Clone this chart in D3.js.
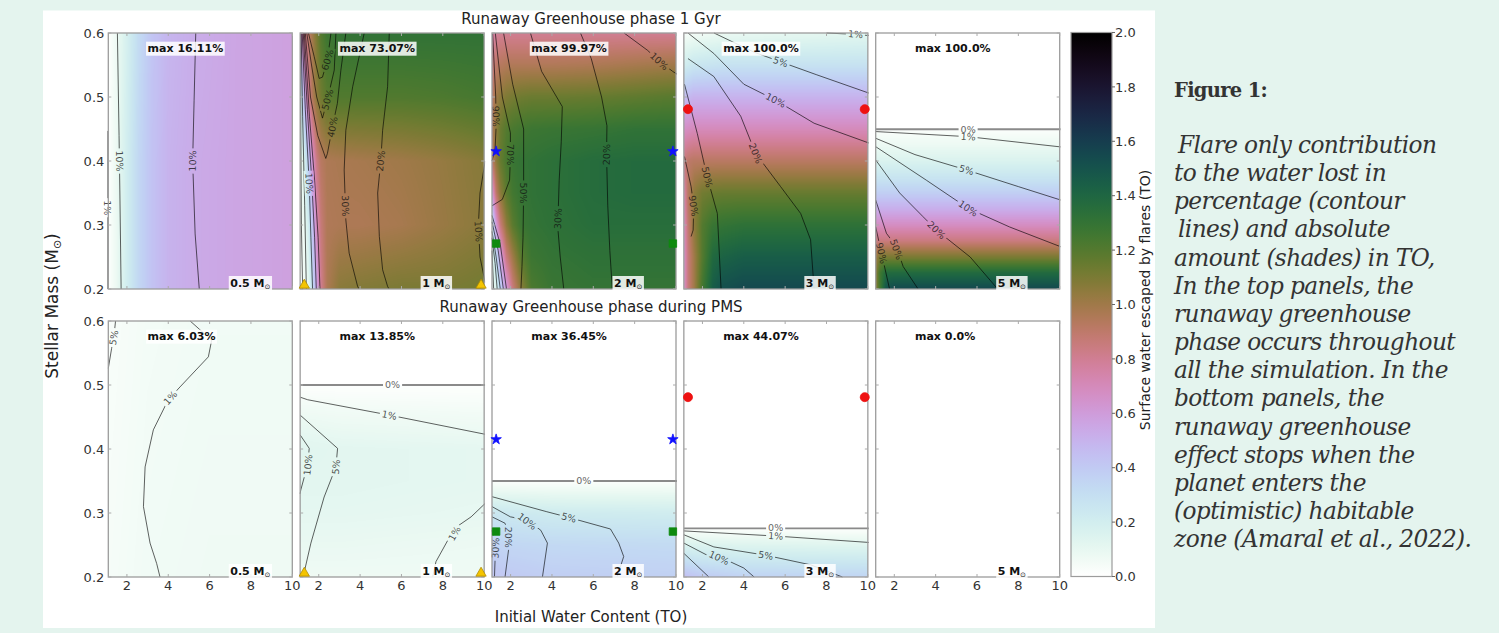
<!DOCTYPE html>
<html><head><meta charset="utf-8">
<script src="https://cdn.jsdelivr.net/npm/d3@7"></script>
<style>
html,body{margin:0;padding:0;background:#e4f4ee;}
#wrap{position:relative;width:1499px;height:633px;overflow:hidden;}
svg{position:absolute;left:0;top:0;}
</style></head><body><div id="wrap"></div>
<script>
// ---------------- data ----------------
const stellarMass = ["0.5","1","2","3","5"];
const rowTitles = ["Runaway Greenhouse phase 1 Gyr","Runaway Greenhouse phase during PMS"];
const maxTop = ["16.11%","73.07%","99.97%","100.0%","100.0%"];
const maxBottom = ["6.03%","13.85%","36.45%","44.07%","0.0%"];
const massTicks = [0.2,0.3,0.4,0.5,0.6];
const waterTicks = [2,4,6,8,10];
const colorTicks = [0,0.2,0.4,0.6,0.8,1.0,1.2,1.4,1.6,1.8,2.0];
const markerWater = [1.3, 9.85];
const planetMarkers = [
  {col:1, mass:0.206, shape:"triangle", fill:"#f4c400", stroke:"#b08c00"},
  {col:2, mass:0.415, shape:"star", fill:"#1010ff", stroke:"#1010ff"},
  {col:2, mass:0.271, shape:"square", fill:"#0e8a0e", stroke:"#0e8a0e"},
  {col:3, mass:0.481, shape:"circle", fill:"#ee1111", stroke:"#ee1111"}
];
const captionTitle = "Figure 1:";
const captionLines = [" Flare only contribution","to the water lost in","percentage (contour"," lines) and absolute","amount (shades) in TO,","In the top panels, the","runaway greenhouse","phase occurs throughout","all the simulation. In the","bottom panels, the","runaway greenhouse","effect stops when the","planet enters the","(optimistic) habitable","zone (Amaral et al., 2022)."];

// surface water escaped (TO): rows = stellar mass, columns = initial water
const T1_water = [1.1,1.5,2.0,2.6,3.2,4.0,5.5,7.5,10];
const T1_mass = [0.2,0.4,0.6];
const T1_escaped = [
  [0.01,0.08,0.20,0.34,0.43,0.50,0.54,0.56,0.58],
  [0.01,0.08,0.20,0.34,0.43,0.50,0.54,0.56,0.58],
  [0.01,0.07,0.18,0.32,0.42,0.49,0.53,0.56,0.58]];
const T2_water = [1.1,1.3,1.5,1.7,1.9,2.1,2.4,3,4,6,8,10];
const T2_mass = [0.2,0.3,0.4,0.5,0.6];
const T2_escaped = [
  [0.02,0.05,0.10,0.30,0.55,0.80,0.96,1.06,1.08,1.10,1.10,1.12],
  [0.03,0.08,0.20,0.45,0.70,0.86,0.95,0.96,0.96,0.98,1.02,1.06],
  [0.05,0.15,0.40,0.65,0.83,0.92,0.96,0.97,0.98,1.00,1.03,1.07],
  [0.15,0.50,0.80,0.95,1.05,1.12,1.18,1.21,1.21,1.21,1.22,1.24],
  [0.60,0.82,0.90,1.00,1.10,1.20,1.27,1.30,1.31,1.31,1.31,1.31]];
const T3_water = [1.1,1.3,1.5,1.8,2.1,2.5,3,4,6,8,10];
const T3_mass = [0.2,0.25,0.3,0.35,0.4,0.45,0.5,0.55,0.6];
const T3_escaped = [
  [0.05,0.15,0.35,0.60,0.85,1.05,1.22,1.28,1.30,1.30,1.30],
  [0.10,0.30,0.55,0.85,1.00,1.18,1.27,1.30,1.32,1.32,1.32],
  [0.25,0.60,0.85,1.05,1.18,1.27,1.30,1.32,1.35,1.35,1.35],
  [0.60,0.90,1.05,1.18,1.25,1.29,1.31,1.33,1.36,1.37,1.37],
  [0.90,1.05,1.15,1.23,1.28,1.30,1.31,1.33,1.36,1.37,1.37],
  [0.95,1.05,1.14,1.20,1.23,1.25,1.27,1.28,1.29,1.31,1.31],
  [0.90,1.00,1.05,1.09,1.11,1.13,1.14,1.14,1.15,1.17,1.19],
  [0.85,0.90,0.93,0.95,0.95,0.95,0.95,0.95,0.96,0.98,1.00],
  [0.75,0.78,0.80,0.80,0.80,0.80,0.80,0.80,0.80,0.80,0.80]];
const T4_water = [1.1,1.3,1.6,2.0,2.5,3,4,6,8,10];
const T4_mass = [0.2,0.25,0.3,0.35,0.4,0.45,0.5,0.55,0.6];
const T4_escaped = [
  [0.65,0.85,1.00,1.25,1.45,1.52,1.55,1.55,1.55,1.55],
  [0.65,0.85,1.00,1.20,1.38,1.42,1.45,1.45,1.45,1.45],
  [0.68,0.88,1.05,1.20,1.28,1.30,1.32,1.32,1.32,1.32],
  [0.72,0.92,1.05,1.12,1.14,1.15,1.15,1.15,1.15,1.15],
  [0.85,0.90,0.92,0.92,0.92,0.92,0.92,0.92,0.92,0.92],
  [0.66,0.68,0.70,0.70,0.70,0.70,0.70,0.70,0.70,0.70],
  [0.45,0.47,0.50,0.50,0.50,0.50,0.50,0.50,0.50,0.50],
  [0.20,0.22,0.25,0.26,0.27,0.28,0.28,0.28,0.28,0.28],
  [0.03,0.04,0.05,0.06,0.07,0.08,0.09,0.10,0.11,0.12]];
const T5_water = [1.1,1.3,1.6,2.0,3.0,10];
const T5_mass = [0.2,0.225,0.25,0.275,0.3,0.325,0.35,0.375,0.4,0.425,0.449,0.451,0.6];
const T5_escaped = [
  [1.05,1.25,1.50,1.55,1.55,1.55],
  [1.05,1.25,1.38,1.38,1.38,1.38],
  [1.00,1.10,1.10,1.10,1.10,1.10],
  [0.85,0.85,0.85,0.85,0.85,0.85],
  [0.68,0.68,0.68,0.68,0.68,0.68],
  [0.52,0.52,0.52,0.52,0.52,0.52],
  [0.38,0.38,0.38,0.38,0.38,0.38],
  [0.26,0.26,0.26,0.26,0.26,0.26],
  [0.16,0.16,0.16,0.16,0.16,0.16],
  [0.08,0.08,0.08,0.08,0.08,0.08],
  [0.02,0.02,0.02,0.02,0.02,0.02],
  [0,0,0,0,0,0],
  [0,0,0,0,0,0]];
const B1_water = [1.1,3,6,10];
const B1_mass = [0.2,0.6];
const B1_escaped = [[0.04,0.06,0.07,0.07],[0.03,0.05,0.06,0.06]];
const B2_water = [1.1,3,10];
const B2_mass = [0.2,0.25,0.3,0.35,0.4,0.45,0.499,0.501,0.6];
const B2_escaped = [[0.07,0.07,0.07],[0.09,0.09,0.08],[0.11,0.11,0.10],[0.12,0.12,0.11],[0.13,0.12,0.11],[0.08,0.07,0.06],[0.01,0.01,0.01],[0,0,0],[0,0,0]];
const B3_water = [1.1,2,4,10];
const B3_mass = [0.2,0.25,0.3,0.349,0.351,0.6];
const B3_escaped = [[0.42,0.40,0.38,0.37],[0.36,0.34,0.33,0.32],[0.25,0.24,0.22,0.21],[0.02,0.02,0.02,0.02],[0,0,0,0],[0,0,0,0]];
const B4_water = [1.1,2,4,10];
const B4_mass = [0.2,0.225,0.25,0.274,0.276,0.6];
const B4_escaped = [[0.45,0.40,0.36,0.35],[0.30,0.27,0.25,0.24],[0.16,0.15,0.14,0.13],[0.02,0.02,0.02,0.02],[0,0,0,0],[0,0,0,0]];
const B5_water = [1.1,10];
const B5_mass = [0.2,0.6];
const B5_escaped = [[0,0],[0,0]];

// contour lines of water lost (%): points are [initial water, stellar mass]
const T1_contours = [
  {level:"1%", pts:[[1.08,0.447],[1.08,0.2]], label:[1.08,0.327]},
  {level:"10%", pts:[[1.54,0.6],[1.62,0.44],[1.66,0.35],[1.72,0.2]], label:[1.645,0.40]},
  {level:"10%", pts:[[5.33,0.6],[5.25,0.495],[5.18,0.40],[5.30,0.286],[5.5,0.2]], label:[5.18,0.40]}];
const T2_contours = [
  {level:"1%", pts:[[1.12,0.6],[1.13,0.45],[1.16,0.3],[1.22,0.2]]},
  {level:"5%", pts:[[1.15,0.6],[1.22,0.47],[1.32,0.33],[1.4,0.2]]},
  {level:"10%", pts:[[1.2,0.6],[1.35,0.48],[1.54,0.365],[1.62,0.28],[1.7,0.2]], label:[1.54,0.365]},
  {level:"20%", pts:[[1.25,0.6],[1.45,0.48],[1.66,0.37],[1.8,0.28],[1.88,0.2]]},
  {level:"30%", pts:[[1.3,0.6],[1.55,0.47],[1.8,0.37],[1.97,0.28],[2.06,0.2]]},
  {level:"40%", pts:[[1.35,0.6],[1.6,0.5],[1.95,0.44],[2.34,0.404],[2.42,0.412],[2.66,0.453],[2.9,0.49],[3.07,0.542],[3.31,0.6]], label:[2.66,0.453]},
  {level:"50%", pts:[[1.42,0.6],[1.65,0.55],[1.9,0.5],[2.18,0.467],[2.42,0.496],[2.75,0.542],[2.83,0.6]], label:[2.42,0.496]},
  {level:"60%", pts:[[1.5,0.6],[1.78,0.563],[2.02,0.529],[2.18,0.531],[2.42,0.558],[2.59,0.6]], label:[2.42,0.558]},
  {level:"30%", pts:[[4.2,0.6],[3.64,0.516],[3.31,0.448],[3.23,0.386],[3.31,0.308],[3.47,0.256],[3.88,0.204],[3.95,0.2]], label:[3.29,0.33]},
  {level:"20%", pts:[[5.41,0.6],[5.33,0.516],[5.09,0.448],[5.0,0.40],[4.85,0.35],[4.93,0.282],[5.09,0.23],[5.33,0.204],[5.4,0.2]], label:[4.99,0.40]},
  {level:"10%", pts:[[10.05,0.40],[9.8,0.35],[9.72,0.3],[9.8,0.25],[10.05,0.21]], label:[9.73,0.29]}];
const T3_contours = [
  {level:"1%", pts:[[1.1,0.26],[1.18,0.2]]},
  {level:"5%", pts:[[1.1,0.28],[1.25,0.24],[1.35,0.2]]},
  {level:"10%", pts:[[1.1,0.29],[1.3,0.25],[1.5,0.2]]},
  {level:"20%", pts:[[1.1,0.305],[1.4,0.26],[1.65,0.2]]},
  {level:"30%", pts:[[1.1,0.315],[1.5,0.27],[1.8,0.2]]},
  {level:"90%", pts:[[1.13,0.6],[1.28,0.5],[1.3,0.454],[1.25,0.42],[1.1,0.4]], label:[1.29,0.47]},
  {level:"70%", pts:[[1.26,0.6],[1.6,0.5],[1.99,0.444],[1.99,0.407],[1.95,0.37],[1.6,0.34],[1.1,0.33]], label:[1.99,0.41]},
  {level:"50%", pts:[[1.66,0.6],[2.1,0.52],[2.63,0.45],[2.63,0.4],[2.63,0.35],[2.6,0.28],[2.55,0.235],[2.5,0.2]], label:[2.63,0.35]},
  {level:"30%", pts:[[2.96,0.6],[3.5,0.54],[4.5,0.485],[4.45,0.43],[4.35,0.37],[4.28,0.297],[4.4,0.25],[4.57,0.2]], label:[4.29,0.31]},
  {level:"20%", pts:[[5.38,0.6],[5.9,0.56],[6.4,0.5],[6.66,0.455],[6.64,0.41],[6.7,0.33],[6.8,0.26],[6.92,0.2]], label:[6.64,0.41]},
  {level:"10%", pts:[[7.49,0.6],[8.62,0.573],[9.19,0.556],[9.84,0.54],[10.08,0.535]], label:[9.19,0.556]}];
const T4_contours = [
  {level:"1%", pts:[[8.0,0.6],[9.3,0.598],[10.05,0.596]], label:[9.4,0.598]},
  {level:"5%", pts:[[2.56,0.6],[4.5,0.57],[5.78,0.555],[7.5,0.535],[10.06,0.506]], label:[5.78,0.555]},
  {level:"10%", pts:[[1.3,0.6],[2.55,0.568],[4.0,0.52],[5.54,0.495],[7.4,0.459],[10.06,0.428]], label:[5.54,0.495]},
  {level:"20%", pts:[[1.3,0.56],[2.55,0.532],[3.85,0.47],[4.57,0.412],[5.78,0.36],[6.75,0.318],[7.23,0.277],[7.4,0.2]], label:[4.57,0.412]},
  {level:"50%", pts:[[1.13,0.52],[1.75,0.443],[2.23,0.375],[2.72,0.318],[2.9,0.2]], label:[2.23,0.375]},
  {level:"90%", pts:[[1.13,0.407],[1.45,0.36],[1.58,0.329],[1.55,0.292],[1.45,0.282]], label:[1.57,0.33]}];
const T5_contours = [
  {level:"0%", pts:[[1.1,0.4495],[10.05,0.4495]], label:[5.57,0.4495]},
  {level:"1%", pts:[[1.1,0.446],[5.57,0.438],[10.05,0.422]], label:[5.57,0.438]},
  {level:"5%", pts:[[1.1,0.4355],[3.0,0.41],[5.49,0.386],[8,0.36],[10.05,0.339]], label:[5.49,0.386]},
  {level:"10%", pts:[[1.1,0.4224],[3.55,0.37],[5.57,0.326],[7.57,0.297],[10.05,0.266]], label:[5.57,0.326]},
  {level:"20%", pts:[[1.1,0.4016],[2.26,0.35],[3.39,0.313],[4.04,0.292],[5.67,0.25],[7.0,0.2]], label:[4.04,0.292]},
  {level:"50%", pts:[[1.1,0.339],[1.62,0.287],[2.1,0.266],[2.43,0.235],[3.15,0.2]], label:[2.1,0.262]},
  {level:"90%", pts:[[1.1,0.297],[1.38,0.256],[1.77,0.2]], label:[1.38,0.256]}];
const B1_contours = [
  {level:"5%", pts:[[1.1,0.526],[1.26,0.557],[1.38,0.578],[1.45,0.6]], label:[1.36,0.574]},
  {level:"1%", pts:[[5.06,0.6],[6.1,0.57],[5.94,0.544],[4.57,0.497],[4.0,0.477],[3.28,0.43],[2.88,0.372],[2.8,0.31],[3.12,0.253],[3.44,0.221],[3.6,0.2]], label:[4.1,0.48]}];
const B2_contours = [
  {level:"0%", pts:[[1.1,0.5],[10.05,0.5]], label:[5.57,0.5]},
  {level:"1%", pts:[[1.1,0.481],[1.46,0.477],[5.41,0.453],[10.05,0.423]], label:[5.41,0.453]},
  {level:"10%", pts:[[1.1,0.422],[1.54,0.401],[1.46,0.375],[1.13,0.336],[1.1,0.33]], label:[1.48,0.375]},
  {level:"5%", pts:[[1.1,0.453],[2.91,0.401],[2.83,0.372],[2.26,0.325],[1.62,0.253],[1.3,0.208]], label:[2.83,0.372]},
  {level:"1%", pts:[[10.05,0.315],[9.37,0.294],[8.56,0.276],[7.67,0.224],[7.51,0.2]], label:[8.56,0.268]}];
const B3_contours = [
  {level:"0%", pts:[[1.1,0.35],[10.05,0.35]], label:[5.54,0.35]},
  {level:"5%", pts:[[1.1,0.3255],[3.75,0.302],[4.82,0.293],[6.83,0.275],[7.23,0.253],[7.47,0.232],[7.15,0.2]], label:[4.82,0.293]},
  {level:"10%", pts:[[1.1,0.31],[1.99,0.294],[2.8,0.289],[3.46,0.273],[3.78,0.253],[3.54,0.2]], label:[2.8,0.287]},
  {level:"20%", pts:[[1.1,0.294],[1.73,0.284],[1.9,0.268],[1.9,0.242],[1.73,0.2]], label:[1.9,0.262]},
  {level:"30%", pts:[[1.1,0.273],[1.27,0.247],[1.22,0.2]], label:[1.27,0.245]}];
const B4_contours = [
  {level:"0%", pts:[[1.1,0.276],[10.05,0.276]], label:[5.54,0.277]},
  {level:"1%", pts:[[1.1,0.272],[5.54,0.264],[10.05,0.254]], label:[5.54,0.264]},
  {level:"5%", pts:[[1.1,0.266],[2.55,0.247],[5.06,0.234],[7.23,0.219],[8.77,0.2]], label:[5.06,0.234]},
  {level:"10%", pts:[[1.1,0.253],[2.23,0.234],[2.8,0.232],[4.0,0.214],[4.5,0.2]], label:[2.8,0.23]},
  {level:"20%", pts:[[1.1,0.237],[2.31,0.2]]}];
const B5_contours = [];

// ---------------- drawing ----------------
const panels = [
  [T1_water,T1_mass,T1_escaped,T1_contours],[T2_water,T2_mass,T2_escaped,T2_contours],
  [T3_water,T3_mass,T3_escaped,T3_contours],[T4_water,T4_mass,T4_escaped,T4_contours],
  [T5_water,T5_mass,T5_escaped,T5_contours],[B1_water,B1_mass,B1_escaped,B1_contours],
  [B2_water,B2_mass,B2_escaped,B2_contours],[B3_water,B3_mass,B3_escaped,B3_contours],
  [B4_water,B4_mass,B4_escaped,B4_contours],[B5_water,B5_mass,B5_escaped,B5_contours]];

const W=1499,H=633;
const svg = d3.select("#wrap").append("svg").attr("width",W).attr("height",H)
  .style("font-family","'DejaVu Sans', sans-serif");
const defs = svg.append("defs");
svg.append("rect").attr("x",43).attr("y",10.5).attr("width",1112).attr("height",617.5).attr("fill","#ffffff");

const colorScale = d3.scaleSequential(d3.interpolateCubehelixDefault).domain([2,0]);
const LUT = d3.range(513).map(k=>d3.rgb(colorScale(k/512*2)));
function locate(arr,v){
  let k = d3.bisectRight(arr,v)-1; k=Math.max(0,Math.min(arr.length-2,k));
  let t=(v-arr[k])/(arr[k+1]-arr[k]); t=Math.max(0,Math.min(1,t)); return [k,t];
}
function labelAngle(pp,p){
  let best=Infinity,ang=0;
  for(let k=0;k<pp.length-1;k++){
    const a=pp[k],b=pp[k+1],dx=b[0]-a[0],dy=b[1]-a[1],L2=dx*dx+dy*dy||1;
    let t=((p[0]-a[0])*dx+(p[1]-a[1])*dy)/L2; t=Math.max(0,Math.min(1,t));
    const d=(p[0]-a[0]-t*dx)**2+(p[1]-a[1]-t*dy)**2;
    if(d<best){best=d;ang=Math.atan2(dy,dx)*180/Math.PI;}
  }
  if(ang>90)ang-=180; if(ang<=-90)ang+=180; return ang;
}
const rowTop=[33,321], PW=184, PH=256;
const colLeft = c => 108.3 + c*191.85;

panels.forEach((P,idx)=>{
  const [water,mass,esc,contours]=P;
  const row = idx<5?0:1, col=idx%5;
  const x0=colLeft(col), y0=rowTop[row];
  const xS=d3.scaleLinear().domain([1.1,10]).range([x0,x0+PW]);
  const yS=d3.scaleLinear().domain([0.2,0.6]).range([y0+PH,y0]);
  // shaded field
  const cv=document.createElement("canvas"); cv.width=PW; cv.height=PH;
  const ctx=cv.getContext("2d"); const img=ctx.createImageData(PW,PH);
  for(let j=0;j<PH;j++){
    const [mk,mt]=locate(mass,yS.invert(y0+j+0.5));
    const r0=esc[mk], r1=esc[mk+1];
    for(let i=0;i<PW;i++){
      const [wk,wt]=locate(water,xS.invert(x0+i+0.5));
      const v=(1-mt)*((1-wt)*r0[wk]+wt*r0[wk+1])+mt*((1-wt)*r1[wk]+wt*r1[wk+1]);
      const c=LUT[Math.max(0,Math.min(512,Math.round(v/2*512)))];
      const o=(j*PW+i)*4; img.data[o]=c.r; img.data[o+1]=c.g; img.data[o+2]=c.b; img.data[o+3]=255;
    }
  }
  ctx.putImageData(img,0,0);
  svg.append("image").attr("x",x0).attr("y",y0).attr("width",PW).attr("height",PH)
    .attr("preserveAspectRatio","none").attr("href",cv.toDataURL());

  // contour lines with label gaps
  const clipId="clip"+idx, maskId="mask"+idx;
  defs.append("clipPath").attr("id",clipId).append("rect").attr("x",x0-3).attr("y",y0-1).attr("width",PW+4).attr("height",PH+2);
  const mask=defs.append("mask").attr("id",maskId).attr("maskUnits","userSpaceOnUse")
    .attr("x",0).attr("y",0).attr("width",W).attr("height",H);
  mask.append("rect").attr("width",W).attr("height",H).attr("fill","#fff");
  const lineG=svg.append("g").attr("clip-path",`url(#${clipId})`).append("g").attr("mask",`url(#${maskId})`);
  const labG=svg.append("g");
  const line=d3.line().x(d=>xS(d[0])).y(d=>yS(d[1]));
  contours.forEach(c=>{
    const zero=c.level==="0%";
    lineG.append("path").attr("d",line(c.pts)).attr("fill","none")
      .attr("stroke",zero?"#8a8a8a":"#000").attr("stroke-opacity",zero?1:0.62)
      .attr("stroke-width",zero?1.9:1);
    if(c.label){
      const pp=c.pts.map(d=>[xS(d[0]),yS(d[1])]);
      const p=[xS(c.label[0]),yS(c.label[1])];
      const ang=labelAngle(pp,p);
      const t=labG.append("text").attr("transform",`translate(${p[0]},${p[1]}) rotate(${ang})`)
        .attr("text-anchor","middle").attr("dy","0.36em").attr("font-size",9.5)
        .attr("fill",zero?"#666":"#111").attr("fill-opacity",zero?1:0.75).text(c.level);
      const w=t.node().getComputedTextLength();
      mask.append("rect").attr("x",-w/2-2).attr("y",-5).attr("width",w+4).attr("height",10)
        .attr("transform",`translate(${p[0]},${p[1]}) rotate(${ang})`).attr("fill","#000");
    }
  });

  // spines and ticks
  const ax=svg.append("g");
  ax.append("rect").attr("x",x0).attr("y",y0).attr("width",PW).attr("height",PH)
    .attr("fill","none").attr("stroke","#9c9c9c").attr("stroke-width",1.3);
  waterTicks.forEach(t=>{
    ax.append("line").attr("x1",xS(t)).attr("x2",xS(t)).attr("y1",y0).attr("y2",y0+3).attr("stroke","#aaa");
    ax.append("line").attr("x1",xS(t)).attr("x2",xS(t)).attr("y1",y0+PH).attr("y2",y0+PH-3).attr("stroke","#aaa");
  });
  massTicks.forEach(t=>{
    ax.append("line").attr("x1",x0).attr("x2",x0+3).attr("y1",yS(t)).attr("y2",yS(t)).attr("stroke","#aaa");
    ax.append("line").attr("x1",x0+PW).attr("x2",x0+PW-3).attr("y1",yS(t)).attr("y2",yS(t)).attr("stroke","#aaa");
  });
  if(col===0){
    massTicks.forEach(t=>{
      ax.append("text").attr("x",x0-4).attr("y",yS(t)).attr("dy","0.35em").attr("text-anchor","end")
        .attr("font-size",13).attr("fill","#333").text(t.toFixed(1));
    });
  }
  if(row===1){
    waterTicks.forEach(t=>{
      ax.append("text").attr("x",xS(t)).attr("y",y0+PH+12.5).attr("text-anchor","middle")
        .attr("font-size",13).attr("fill","#333").text(t);
    });
  }
  // markers
  planetMarkers.filter(m=>m.col===col).forEach(m=>{
    const type={circle:d3.symbolCircle,star:d3.symbolStar,square:d3.symbolSquare,triangle:d3.symbolTriangle}[m.shape];
    const size={circle:64,star:34,square:56,triangle:46}[m.shape];
    markerWater.forEach(wv=>{
      ax.append("path").attr("d",d3.symbol().type(type).size(size)())
        .attr("transform",`translate(${xS(wv)},${yS(m.mass)})`)
        .attr("fill",m.fill).attr("stroke",m.stroke).attr("stroke-width",0.8);
    });
  });
  // max annotation
  const maxText=(row===0?maxTop:maxBottom)[col];
  const mt=ax.append("text").attr("x",xS(3.0)).attr("y",yS(0.57)).attr("font-size",11)
    .attr("font-weight","bold").attr("fill","#111").text("max "+maxText);
  const bb=mt.node().getBBox();
  ax.insert("rect","text:last-of-type").attr("x",bb.x-1.5).attr("y",bb.y-0.5).attr("width",bb.width+3).attr("height",bb.height+1)
    .attr("fill","#fff").attr("fill-opacity",0.85);
  mt.raise();
  // stellar mass label
  const ml=ax.append("text").attr("x",xS(7.0)).attr("y",y0+PH-2.5).attr("font-size",11)
    .attr("font-weight","bold").attr("fill","#111");
  ml.append("tspan").text(stellarMass[col]+" M");
  ml.append("tspan").attr("font-size",7).attr("dy",2).attr("font-weight","normal").text("\u2299");
  const mb=ml.node().getBBox();
  ax.insert("rect","text:last-of-type").attr("x",mb.x-1.5).attr("y",mb.y-0.5).attr("width",mb.width+3).attr("height",mb.height+1)
    .attr("fill","#fff").attr("fill-opacity",0.85);
  ml.raise();
});

// row titles and axis labels
[24,312].forEach((y,i)=>{
  svg.append("text").attr("x",591).attr("y",y).attr("text-anchor","middle").attr("font-size",15)
    .attr("fill","#222").text(rowTitles[i]);
});
svg.append("text").attr("x",591).attr("y",622).attr("text-anchor","middle").attr("font-size",15)
  .attr("fill","#222").text("Initial Water Content (TO)");
const yl=svg.append("text").attr("transform","translate(58,306) rotate(-90)").attr("text-anchor","middle")
  .attr("font-size",17).attr("fill","#222");
yl.append("tspan").text("Stellar Mass (M");
yl.append("tspan").attr("font-size",11).attr("dy",3).text("\u2299");
yl.append("tspan").attr("dy",-3).text(")");

// colorbar
const cbX=1071, cbW=41, cbTop=32.5, cbBot=576.5;
const cbS=d3.scaleLinear().domain([0,2]).range([cbBot,cbTop]);
const grad=defs.append("linearGradient").attr("id","cbgrad").attr("x1",0).attr("y1",1).attr("x2",0).attr("y2",0);
d3.range(0,1.0001,0.02).forEach(t=>grad.append("stop").attr("offset",t).attr("stop-color",colorScale(t*2)));
svg.append("rect").attr("x",cbX).attr("y",cbTop).attr("width",cbW).attr("height",cbBot-cbTop)
  .attr("fill","url(#cbgrad)").attr("stroke","#9c9c9c").attr("stroke-width",1.2);
colorTicks.forEach(t=>{
  svg.append("line").attr("x1",cbX+cbW).attr("x2",cbX+cbW+3).attr("y1",cbS(t)).attr("y2",cbS(t)).attr("stroke","#666");
  svg.append("text").attr("x",cbX+cbW+3).attr("y",cbS(t)).attr("dy","0.36em").attr("font-size",13)
    .attr("fill","#333").text(t.toFixed(1));
});
svg.append("text").attr("transform","translate(1150,300) rotate(-90)").attr("text-anchor","middle")
  .attr("font-size",14).attr("fill","#222").text("Surface water escaped by flares (TO)");

// caption
const capG=svg.append("g").attr("fill","#333");
capG.append("text").attr("x",1174).attr("y",97).attr("font-family","'DejaVu Serif', serif")
  .attr("font-weight","bold").attr("font-size",19.5).attr("letter-spacing",-0.7).text(captionTitle);
const probe=capG.append("text").attr("font-family","'DejaVu Serif', serif").attr("font-style","italic")
  .attr("font-size",20).attr("letter-spacing",-0.6).text("phase occurs throughout");
const fs=20*279/probe.node().getComputedTextLength(); probe.remove();
captionLines.forEach((s,k)=>{
  const lead=s.startsWith(" ");
  capG.append("text").attr("x",1174+(lead?4:0)).attr("y",153+k*28.15)
    .attr("font-family","'DejaVu Serif', serif").attr("font-style","italic").attr("font-size",fs)
    .attr("letter-spacing",-0.6).text(s.trim());
});
</script></body></html>
